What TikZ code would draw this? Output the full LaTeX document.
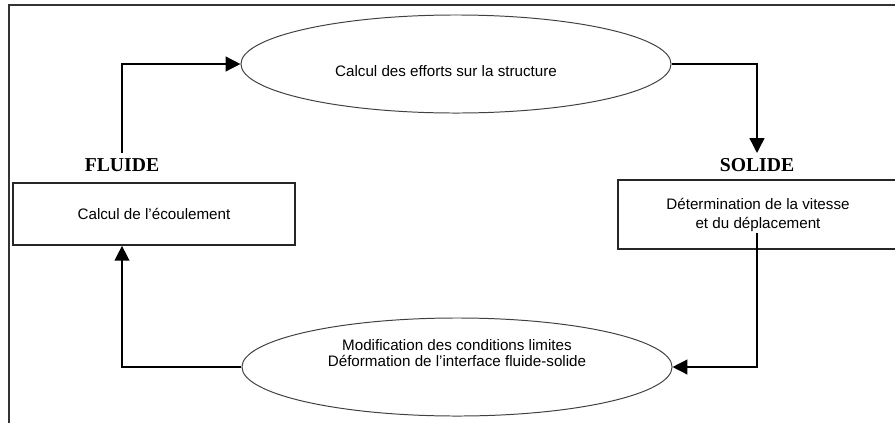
\documentclass[tikz,border=0pt]{standalone}
\usepackage{fontspec}
\setmainfont{Liberation Sans}
\newfontfamily\titlefont{Liberation Serif}
\usetikzlibrary{arrows.meta, positioning, shapes.geometric}

\begin{document}
\begin{tikzpicture}[x=0.025cm, y=-0.025cm, >={Triangle[length=10.5pt,width=10.5pt]}, line width=1pt, font=\fontsize{10.8}{13}\selectfont]
    \tikzstyle{bulle}=[ellipse, draw=black!75, line width=0.7pt, minimum width=10.75cm, minimum height=2.45cm, inner sep=0pt]
    \tikzstyle{bloc}=[rectangle, draw=black!85, line width=1.2pt, align=center]
    \tikzstyle{titre}=[font=\titlefont\bfseries\fontsize{14}{16}\selectfont]
    \tikzstyle{texte}=[align=center, inner sep=0pt]

    \useasboundingbox (0,0) rectangle (895,423);

    % cadre
    \draw[black!80] (9,423) -- (9,5) -- (895,5);

    % les deux ellipses
    \node[bulle] (efforts) at (456,64) {};
    \node[texte] (efforts-txt) at (446,71) {Calcul des efforts sur la structure};

    \node[bulle] (modif) at (457,367) {};
    \node[texte, font=\fontsize{10.8}{11.4}\selectfont] (modif-txt) at (457,353)
        {Modification des conditions limites\\D\'eformation de l’interface fluide-solide};

    % cote fluide
    \node[titre] (fluide-lbl) at (122,165) {FLUIDE};
    \node[bloc, minimum width=7.05cm, minimum height=1.55cm] (fluide) at (154,214) {Calcul de l’\'ecoulement};

    % cote solide
    \node[titre] (solide-lbl) at (757,165) {SOLIDE};
    \node[bloc, minimum width=7cm, minimum height=1.725cm, font=\fontsize{10.8}{13.5}\selectfont] (solide) at (758,214.5)
        {D\'etermination de la vitesse\\et du d\'eplacement};
    \coordinate (sol-out) at (757,233);

    % liaisons
    \draw[->] (fluide-lbl.north) |- (efforts.west);
    \draw[->] (efforts.east) -| (solide-lbl.north);
    \draw[->] (sol-out) |- (modif.east);
    \draw[->] (modif.west) -| (fluide-lbl |- fluide.south);
\end{tikzpicture}
\end{document}
